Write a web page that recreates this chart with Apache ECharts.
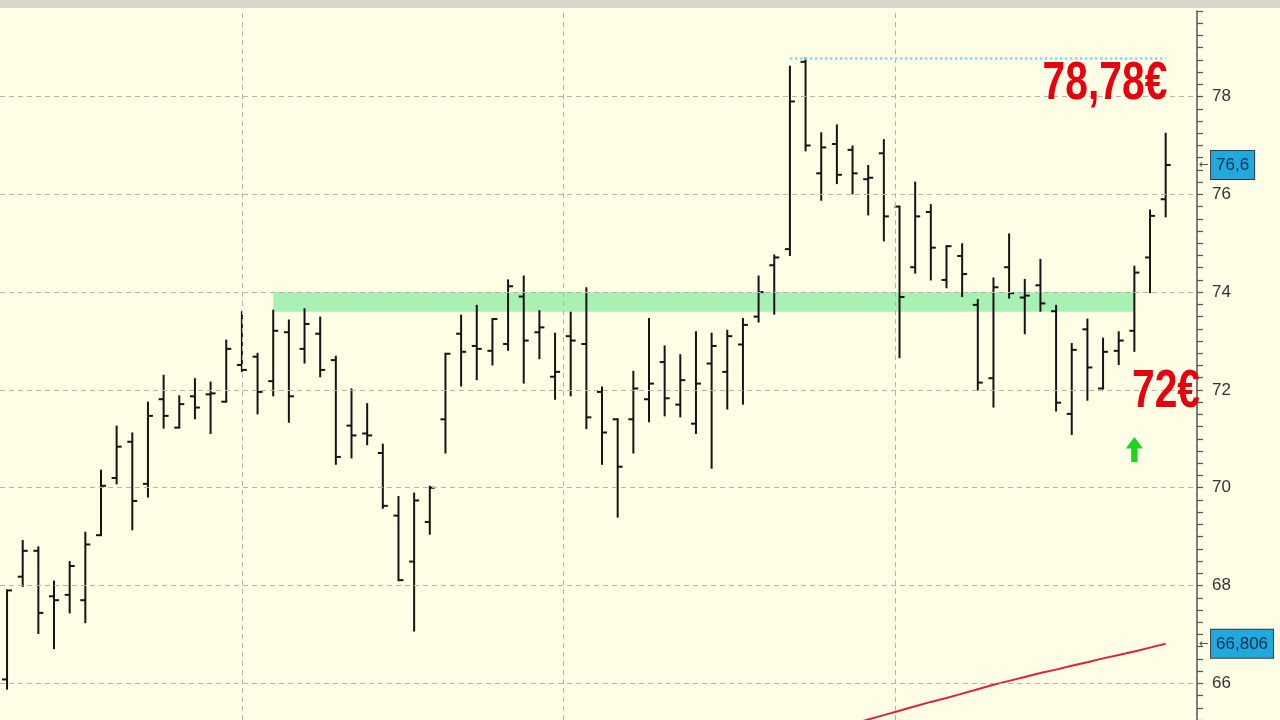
<!DOCTYPE html>
<html><head><meta charset="utf-8">
<script src="https://cdn.jsdelivr.net/npm/echarts@6/dist/echarts.min.js"></script>
<style>html,body{margin:0;padding:0;background:#fefee6;}#c{width:1280px;height:720px;}</style>
</head><body><div id="c"></div>
<script>
// Bar index (trading sessions) 0..74
const opens  = [66.08,68.18,68.71,67.78,67.81,67.70,69.03,70.20,70.94,70.08,
                71.81,71.23,71.87,71.91,71.76,72.51,72.68,72.18,73.18,72.84,
                73.15,72.61,71.27,71.11,70.71,69.43,68.49,69.30,71.40,73.15,
                72.90,72.80,72.94,73.91,73.18,72.27,73.10,72.94,71.96,71.40,
                71.40,71.81,72.57,71.70,71.31,72.54,72.37,72.93,73.50,74.55,
                74.88,78.71,76.43,77.03,76.91,76.31,76.84,75.75,74.51,75.64,
                74.25,74.74,73.74,72.24,74.51,73.89,74.14,73.61,71.51,73.24,
                72.03,72.80,73.21,74.71,75.90];
const closes = [67.90,68.71,67.44,67.70,68.40,68.84,70.04,70.84,69.73,71.47,
                71.47,71.71,71.64,71.93,72.84,72.41,71.96,73.21,71.87,73.35,
                72.41,70.63,71.07,71.07,69.63,68.11,69.74,70.00,72.74,72.78,
                72.84,73.45,74.12,73.01,73.28,72.37,73.01,71.44,71.13,70.43,
                72.03,72.13,71.83,72.20,72.13,72.90,73.10,73.33,74.00,74.71,
                77.90,77.00,76.96,76.40,76.43,76.34,75.55,73.90,75.55,74.91,
                74.94,74.37,72.15,74.10,73.98,73.93,73.77,71.74,72.82,72.46,
                72.78,73.01,74.40,75.56,76.60];
const lows   = [65.89,67.99,67.03,66.72,67.45,67.25,69.03,70.09,69.15,69.82,
                71.23,71.23,71.42,71.12,71.76,72.39,71.52,71.89,71.35,72.56,
                72.28,70.49,70.62,70.89,69.59,68.11,67.08,69.06,70.72,72.09,
                72.22,72.52,72.82,72.15,72.65,71.82,71.89,71.22,70.49,69.41,
                70.72,71.36,71.48,71.46,71.12,70.41,71.62,71.72,73.40,73.56,
                74.76,76.90,75.89,76.23,76.02,75.59,75.06,72.67,74.40,74.26,
                74.10,73.92,72.01,71.66,73.89,73.16,73.62,71.58,71.10,71.80,
                72.03,72.53,72.80,74.00,75.55];
const highs  = [67.90,68.91,68.78,68.08,68.48,69.08,70.35,71.25,71.11,71.74,
                72.29,71.87,72.22,72.15,73.01,73.59,72.74,73.62,73.42,73.65,
                73.48,72.68,72.01,71.71,70.88,69.81,69.88,70.02,72.74,73.52,
                73.72,73.45,74.24,74.32,73.61,73.15,73.58,74.08,72.05,71.40,
                72.37,73.45,72.89,72.71,73.18,73.15,73.21,73.45,74.32,74.75,
                78.61,78.78,77.25,77.41,76.98,76.58,77.11,75.75,76.24,75.78,
                74.94,74.98,73.84,74.28,75.18,74.25,74.66,73.72,72.94,73.44,
                73.05,73.18,74.52,75.67,77.24];
// moving average (red line), starting at bar 54
const maStart = 54;
const maValues = [65.17,65.26,65.35,65.44,65.53,65.62,65.70,65.79,65.88,65.97,
                  66.05,66.13,66.21,66.28,66.36,66.43,66.51,66.58,66.65,66.73,66.81];
const yTickLabels = [66,68,70,72,74,76,78];
const monthLines = [15, 35.53, 56.71];
const zoneFrom = 17, zoneTo = 72, zoneLow = 73.6, zoneHigh = 74.0;
const topFrom = 50, topTo = 74, topValue = 78.78;
const lastPrice = 76.6, lastPriceText = '76,6';
const maPrice = 66.806, maPriceText = '66,806';
const arrowBar = 72, arrowPrice = 70.78;

const ohlc = opens.map((o, i) => [i, o, closes[i], lows[i], highs[i]]);
const ma = maValues.map((v, i) => [maStart + i, v]);

function renderItem(params, api) {
  const x = api.value(0);
  const o = api.coord([x, api.value(1)]);
  const c = api.coord([x, api.value(2)]);
  const l = api.coord([x, api.value(3)]);
  const h = api.coord([x, api.value(4)]);
  const style = { stroke: '#141414', lineWidth: 2 };
  const t = 5;
  return { type: 'group', children: [
    { type: 'line', shape: { x1: h[0], y1: h[1] - 1, x2: l[0], y2: l[1] + 1 }, style },
    { type: 'line', shape: { x1: o[0] - t, y1: o[1], x2: o[0], y2: o[1] }, style },
    { type: 'line', shape: { x1: c[0], y1: c[1], x2: c[0] + t, y2: c[1] }, style }
  ]};
}

const boxLabel = (txt) => ({
  show: true, position: 'end', distance: 2,
  formatter: '{a|←}{b|' + txt + '}',
  rich: {
    a: { color: '#555', fontSize: 12, fontFamily: 'DejaVu Sans', padding: [0, 2, 0, 0] },
    b: { color: '#0b2f4f', fontSize: 17, fontFamily: 'Liberation Sans, Arial, sans-serif',
         backgroundColor: '#1fa9dd', borderColor: '#3a3a3a', borderWidth: 1, padding: [6, 5, 5, 5] }
  }
});
const hidden = { color: 'rgba(0,0,0,0)', width: 0 };
const redFont = 'Liberation Sans, Arial, sans-serif';

const chart = echarts.init(document.getElementById('c'));
chart.setOption({
  animation: false,
  backgroundColor: '#fefee6',
  grid: { left: 0, right: 83, top: 11, bottom: 0 },
  xAxis: { type: 'value', min: -0.45, max: 76.0, show: false },
  yAxis: {
    type: 'value', position: 'right', min: 65.25, max: 79.75, interval: 0.25,
    axisLine: { show: true, onZero: false, lineStyle: { color: '#555', width: 1.5 } },
    axisTick: { show: true, length: 6, lineStyle: { color: '#555', width: 1.2 } },
    splitLine: { show: false },
    axisLabel: {
      margin: 15, color: '#333', fontSize: 17, fontFamily: 'Liberation Sans, Arial, sans-serif',
      formatter: v => (yTickLabels.some(t => Math.abs(t - v) < 1e-6) ? String(Math.round(v)) : '')
    }
  },
  graphic: [
    { type: 'rect', shape: { x: 0, y: 0, width: 1280, height: 8 }, style: { fill: '#d6d6cc' }, z: 10 },
    { type: 'text', x: 1105, y: 84, scaleX: 0.77, z: 20, style: { text: '78,78€', fill: '#e60010', fontSize: 53, fontWeight: 'bold',
      fontFamily: redFont, align: 'center', verticalAlign: 'middle' } },
    { type: 'text', x: 1166, y: 392, scaleX: 0.77, z: 20, style: { text: '72€', fill: '#e60010', fontSize: 53, fontWeight: 'bold',
      fontFamily: redFont, align: 'center', verticalAlign: 'middle' } }
  ],
  series: [
    {
      type: 'line', name: 'MA', data: ma, symbol: 'none', z: 2,
      lineStyle: { color: '#e0203c', width: 2 },
      markLine: {
        silent: true, symbol: ['none', 'none'], animation: false,
        lineStyle: { color: '#b4b4a8', type: [5, 4], width: 1 },
        label: { show: false },
        data: yTickLabels.map(v => ({ yAxis: v })).concat(monthLines.map(v => ({ xAxis: v })))
          .concat([{ yAxis: maPrice, lineStyle: hidden, label: boxLabel(maPriceText) }])
      },
      markArea: {
        silent: true,
        itemStyle: { color: '#a8f1b3' },
        data: [[{ coord: [zoneFrom, zoneHigh] }, { coord: [zoneTo, zoneLow] }]]
      }
    },
    {
      type: 'custom', name: 'OHLC', data: ohlc, renderItem, z: 3,
      encode: { x: 0, y: [1, 2, 3, 4] },
      markLine: {
        silent: true, symbol: ['none', 'none'], animation: false,
        data: [
          [{ coord: [topFrom, topValue], lineStyle: { color: '#8fd4ea', type: 'dotted', width: 2.5 }, label: { show: false } },
           { coord: [topTo, topValue] }],
          { yAxis: lastPrice, lineStyle: hidden, label: boxLabel(lastPriceText) }
        ]
      },
      markPoint: {
        silent: true,
        data: [{ coord: [arrowBar, arrowPrice], symbol: 'path://M8,0 L16,11 L11,11 L11,24 L5,24 L5,11 L0,11 Z',
                 symbolSize: [17, 25], itemStyle: { color: '#1fd31f' }, label: { show: false } }]
      }
    }
  ]
});
</script></body></html>
